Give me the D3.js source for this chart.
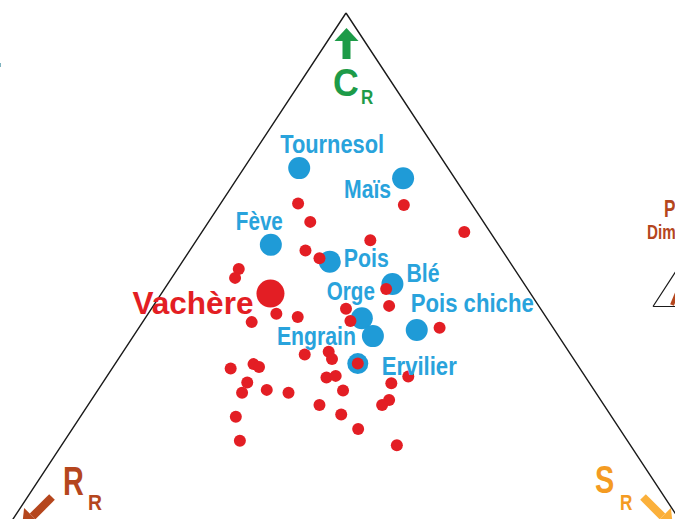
<!DOCTYPE html>
<html><head><meta charset="utf-8">
<script src="https://cdn.jsdelivr.net/npm/d3@7"></script>
<style>
html,body{margin:0;padding:0;background:#fff;overflow:hidden}
svg{display:block}
text{font-family:"Liberation Sans",Arial,sans-serif;font-weight:bold}
</style></head>
<body>
<script>
// ---- Data: CSR ternary values (percent: C competitor, S stress-tolerant, R ruderal)
const cropNames = ["Tournesol","Maïs","Fève","Pois","Blé","Orge","Engrain","Pois chiche","Ervilier"];
const cropC = [72.3,70.5,58.6,55.6,51.6,45.5,42.3,43.4,37.4];
const cropS = [7.5,22.5,10.5,20.0,30.5,29.4,32.5,37.9,32.9];
const cropR = [20.2,7.0,30.9,24.4,17.9,25.1,25.2,18.7,29.7];

const refName = "Vachère";
const refC = [49.9], refS = [14.8], refR = [35.3];

const sampleC = [66.0,65.7,62.7,60.9,59.4,57.6,56.2,54.3,52.7,50.7,47.7,47.2,46.3,45.7,44.8,45.0,43.8,39.0,39.5,38.2,37.4,36.5,37.3,36.8,35.1,34.0,32.2,32.7,32.2,34.9,35.2,32.6,33.9,30.9,30.0,30.0,28.3,27.9,25.7,23.6,22.8];
const sampleS = [10.5,25.0,13.8,35.6,23.6,15.7,18.3,8.3,8.6,30.1,32.0,26.4,17.4,20.6,14.8,28.1,40.8,24.9,27.9,29.0,32.9,16.1,18.8,19.8,40.9,19.6,19.8,22.9,26.1,29.9,31.0,33.3,39.2,40.4,39.9,31.4,35.2,21.1,38.8,23.8,45.5];
const sampleR = sampleC.map((c,i)=>+(100-c-sampleS[i]).toFixed(1));

const axisLetters = ["C","R","S"];
const axisSub = "R";

// ---- Layout
const W = 675, H = 519;
const svg = d3.select("body").append("svg").attr("width",W).attr("height",H);

const apexX = 346, apexY = 13, triH = 560, halfW = 0.658*triH;
// y from C ; x from (S - R)
const yScale = d3.scaleLinear().domain([100,0]).range([apexY, apexY+triH]);
const xScale = d3.scaleLinear().domain([-100,100]).range([apexX-halfW, apexX+halfW]);
const px = (c,s,r)=>{ const t=c+s+r; return [xScale(100*(s-r)/t), yScale(100*c/t)]; };

// triangle
const verts = [px(100,0,0), px(0,0,100), px(0,100,0)];
svg.append("path").attr("d", d3.line()(verts.concat([verts[0]])))
  .attr("fill","none").attr("stroke","#1a1a1a").attr("stroke-width",1.4);

const blue = "#1f9bd7", red = "#e31e24";

// crop dots
const crops = cropNames.map((n,i)=>({name:n, p:px(cropC[i],cropS[i],cropR[i])}));
svg.append("g").selectAll("circle").data(crops).join("circle")
  .attr("cx",d=>d.p[0]).attr("cy",d=>d.p[1]).attr("r",d=>d.name==="Ervilier"?10.5:11)
  .attr("fill",blue);

// sample dots
const samples = sampleC.map((c,i)=>px(c,sampleS[i],sampleR[i]));
svg.append("g").selectAll("circle").data(samples).join("circle")
  .attr("cx",d=>d[0]).attr("cy",d=>d[1]).attr("r",6).attr("fill",red);

// reference (Vachère)
const refP = px(refC[0],refS[0],refR[0]);
svg.append("circle").attr("cx",refP[0]).attr("cy",refP[1]).attr("r",14).attr("fill",red);

// crop labels (offsets relative to dot, width for condensed face)
const labelLayout = {
  "Tournesol":[-19,-15,104], "Maïs":[-59,20,47], "Fève":[-35,-15,47], "Pois":[14,5,45],
  "Blé":[14,-2,33], "Orge":[-35,-18,48], "Pois chiche":[-6,-18,123], "Engrain":[-96,9,79],
  "Ervilier":[24,11,75]
};
svg.append("g").selectAll("text").data(crops).join("text")
  .attr("x",d=>d.p[0]+labelLayout[d.name][0]).attr("y",d=>d.p[1]+labelLayout[d.name][1])
  .attr("textLength",d=>labelLayout[d.name][2]).attr("lengthAdjust","spacingAndGlyphs")
  .attr("font-size",25).attr("fill","#29a3dc").text(d=>d.name);

svg.append("text").attr("x",refP[0]-138).attr("y",refP[1]+20)
  .attr("textLength",121).attr("lengthAdjust","spacingAndGlyphs")
  .attr("font-size",32).attr("fill",red).text(refName);

// ---- Corner labels and arrows
const green = "#1d9b48", brown = "#b5461d", orange = "#f49b22", yellow = "#fbb03b";

function arrow(x1,y1,x2,y2,color,sw,headL,headW){
  const ang = Math.atan2(y2-y1,x2-x1);
  const bx = x2 - headL*Math.cos(ang), by = y2 - headL*Math.sin(ang);
  svg.append("line").attr("x1",x1).attr("y1",y1).attr("x2",bx).attr("y2",by)
    .attr("stroke",color).attr("stroke-width",sw);
  const nx = -Math.sin(ang), ny = Math.cos(ang);
  svg.append("path").attr("d",`M${x2},${y2}L${bx+nx*headW},${by+ny*headW}L${bx-nx*headW},${by-ny*headW}Z`)
    .attr("fill",color);
}
function letter(x,y,size,sx,color,txt,weight){
  svg.append("text").attr("transform",`translate(${x},${y}) scale(${sx},1)`)
    .attr("font-size",size).attr("fill",color).attr("font-weight",weight||"bold").text(txt);
}
// C (top)
arrow(346.5,59,346.5,28,green,8,13,12);
letter(333,96,38,0.94,green,axisLetters[0]);
letter(361,104,20,0.85,green,axisSub);
// R (bottom-left)
arrow(52,497,22,527,brown,8,15,12);
letter(63,495,40,0.72,brown,axisLetters[1]);
letter(88,510,22,0.88,brown,axisSub);
// S (bottom-right)
arrow(643,497,673,527,yellow,8,15,12);
letter(595,493,39,0.74,orange,axisLetters[2]);
letter(620,510,22,0.78,orange,axisSub);

// right-edge partial legend
letter(664,217,23,0.75,brown,"P");
letter(647,239,20,0.76,brown,"Dim","normal");
svg.append("path").attr("d","M653,306.5L675,306.5M653,306.5L676,271").attr("fill","none")
  .attr("stroke","#1a1a1a").attr("stroke-width",1.2);
svg.append("line").attr("x1",672).attr("y1",305).attr("x2",679).attr("y2",288)
  .attr("stroke",brown).attr("stroke-width",4);
svg.append("rect").attr("x",0).attr("y",63).attr("width",1).attr("height",4).attr("fill","#7fb3bf");
</script>
</body></html>
